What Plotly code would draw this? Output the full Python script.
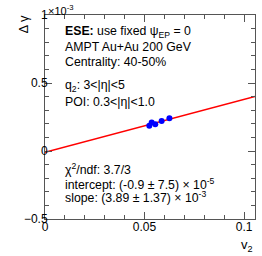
import plotly.graph_objects as go

# Data (Delta gamma in units of 1e-3)
v2 = [0.0524, 0.0536, 0.0554, 0.0586, 0.0625]
dgamma = [0.185, 0.209, 0.197, 0.221, 0.241]
dgamma_err = [0.01, 0.01, 0.01, 0.01, 0.01]

fit_intercept = -0.009   # x 1e-3  (-0.9e-5)
fit_slope = 3.89         # x 1e-3
x_range = [0.0, 0.1055]
y_range = [-0.5, 1.0]

fit_x = x_range
fit_y = [fit_intercept + fit_slope * x for x in fit_x]

FONT = "Liberation Sans, Arial, sans-serif"
AX = "#555555"

fig = go.Figure()
fig.add_trace(go.Scatter(x=fit_x, y=fit_y, mode="lines",
                         line=dict(color="red", width=1.5), showlegend=False))
fig.add_trace(go.Scatter(x=v2, y=dgamma, mode="markers",
                         error_y=dict(type="data", array=dgamma_err, color="blue", thickness=1, width=0),
                         marker=dict(color="blue", size=6, symbol="circle"),
                         showlegend=False))

axis_common = dict(showgrid=False, zeroline=False, showline=True, linecolor=AX, linewidth=1,
                   mirror="allticks", ticks="inside", ticklen=7, tickcolor=AX,
                   tickfont=dict(family=FONT, size=12, color="black"))

fig.update_xaxes(range=x_range, tickvals=[0, 0.05, 0.1], ticktext=["0", "0.05", "0.1"],
                 minor=dict(ticks="inside", dtick=0.01, ticklen=4, tickcolor=AX),
                 ticklabelstandoff=-3,
                 **axis_common)
fig.update_yaxes(range=y_range, tickvals=[-0.5, 0, 0.5, 1.0], ticktext=["\u22120.5", "0", "0.5", "1"],
                 minor=dict(ticks="inside", dtick=0.1, ticklen=4, tickcolor=AX),
                 ticklabelstandoff=-6,
                 **axis_common)

def ann(text, x, y, xanchor="left", yanchor="middle", size=12.3, angle=0):
    fig.add_annotation(text=text, x=x, y=y, xref="paper", yref="paper",
                       xanchor=xanchor, yanchor=yanchor, showarrow=False,
                       textangle=angle, font=dict(family=FONT, size=size, color="black"))

L, R, T, B = 45, 255, 15, 219
def px(xp, yp):
    return (xp - L) / (R - L), (B - yp) / (B - T)

lines_top = [
    ("<b>ESE:</b> use fixed \u03c8<sub>EP</sub> = 0", 31.5),
    ("AMPT Au+Au 200 GeV", 47),
    ("Centrality: 40-50%", 62.5),
    ("q<sub>2</sub>: 3&lt;|\u03b7|&lt;5", 86),
    ("POI: 0.3&lt;|\u03b7|&lt;1.0", 101.5),
    ("\u03c7<sup>2</sup>/ndf: 3.7/3", 168.5),
    ("intercept: (-0.9 \u00b1 7.5) \u00d7 10<sup>-5</sup>", 184),
    ("slope: (3.89 \u00b1 1.37) \u00d7 10<sup>-3</sup>", 197),
]
for t, yp in lines_top:
    x0, y0 = px(63, yp)
    ann(t, x0, y0)

x0, y0 = px(23.5, 24)
ann("\u0394 \u03b3", x0, y0, xanchor="center", yanchor="middle", size=13, angle=-90)
x0, y0 = px(247, 245)
ann("v<sub>2</sub>", x0, y0, xanchor="center", yanchor="middle", size=13)
x0, y0 = px(46, 10)
ann("\u00d710<sup>-3</sup>", x0, y0, xanchor="left", yanchor="middle", size=11)

fig.update_layout(width=262, height=256, margin=dict(l=L, r=262 - R, t=T, b=256 - B),
                  paper_bgcolor="white", plot_bgcolor="white")

fig.write_html("out.html", config={"displayModeBar": False},
               post_script="document.body.style.margin='0';document.body.style.overflow='hidden';")
